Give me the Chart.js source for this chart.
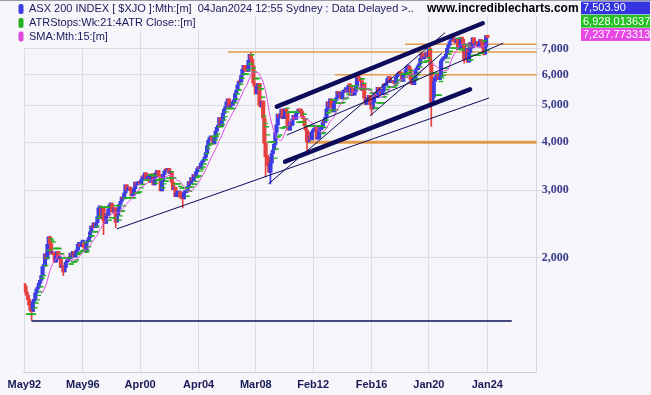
<!DOCTYPE html>
<html>
<head>
<meta charset="utf-8">
<script src="https://cdn.jsdelivr.net/npm/chart.js@4.4.1/dist/chart.umd.min.js"></script>
<style>
  html, body { margin: 0; padding: 0; background: #f5f5fa; }
  #chart { display: block; }
</style>
</head>
<body>
<canvas id="chart" width="651" height="395"></canvas>
<script>
// monthly closes, index 0 = May 1992, last = Jan 2024
var firstOpen = 1715;
var closes1992to1999 = [
  1690, 1630, 1600, 1560, 1510, 1460, 1450, 1540,                          // 1992 May-Dec
  1560, 1620, 1660, 1680, 1720, 1750, 1800, 1900, 1920, 2050, 1990, 2170,  // 1993
  2270, 2180, 2050, 2050, 2040, 1950, 2020, 2080, 1990, 1990, 1890, 1910,  // 1994
  1840, 1890, 1950, 1960, 2000, 1990, 2060, 2030, 2080, 2010, 2060, 2100,  // 1995
  2170, 2180, 2140, 2200, 2200, 2130, 2080, 2200, 2210, 2260, 2340, 2420,  // 1996
  2400, 2470, 2400, 2470, 2560, 2700, 2720, 2530, 2700, 2500, 2460, 2610,  // 1997
  2580, 2680, 2750, 2770, 2640, 2630, 2700, 2480, 2580, 2680, 2760, 2810,  // 1998
  2880, 2850, 2950, 3100, 3000, 3000, 3060, 3000, 2900, 2920, 3030, 3150   // 1999
];
var closes2000to2007 = [
  3100, 3130, 3130, 3120, 3200, 3260, 3250, 3330, 3210, 3240, 3240, 3150,  // 2000
  3290, 3280, 3100, 3240, 3330, 3380, 3280, 3260, 2990, 3160, 3300, 3360,  // 2001
  3390, 3380, 3420, 3320, 3330, 3150, 3010, 3060, 2890, 2950, 2950, 2980,  // 2002
  2880, 2860, 2850, 2960, 2960, 2990, 3070, 3160, 3120, 3240, 3180, 3300,  // 2003
  3260, 3350, 3420, 3430, 3420, 3530, 3560, 3600, 3660, 3760, 3920, 4050,  // 2004
  4110, 4140, 4070, 3960, 4100, 4280, 4380, 4420, 4640, 4400, 4560, 4760,  // 2005
  4880, 4960, 5100, 5190, 4930, 5000, 4990, 5100, 5130, 5360, 5460, 5640,  // 2006
  5770, 5740, 5970, 6200, 6350, 6170, 6130, 6120, 6540, 6780, 6590, 6340   // 2007
];
var closes2008to2015 = [
  5700, 5600, 5350, 5600, 5700, 5000, 4950, 5120, 4630, 3980, 3670, 3660,  // 2008
  3480, 3340, 3530, 3740, 3820, 3950, 4250, 4440, 4740, 4640, 4710, 4880,  // 2009
  4610, 4660, 4890, 4820, 4390, 4300, 4520, 4430, 4600, 4700, 4590, 4750,  // 2010
  4780, 4880, 4830, 4820, 4660, 4610, 4420, 4300, 4010, 4240, 4170, 4060,  // 2011
  4260, 4300, 4340, 4400, 4080, 4100, 4320, 4320, 4390, 4520, 4510, 4650,  // 2012
  4880, 5100, 4970, 5190, 4930, 4800, 5050, 5140, 5220, 5430, 5320, 5350,  // 2013
  5190, 5400, 5400, 5490, 5490, 5400, 5630, 5620, 5300, 5530, 5310, 5410,  // 2014
  5590, 5930, 5890, 5790, 5780, 5460, 5700, 5210, 5020, 5240, 5170, 5300   // 2015
];
var closes2016to2024 = [
  5010, 4880, 5080, 5250, 5380, 5230, 5560, 5430, 5440, 5320, 5440, 5670,  // 2016
  5620, 5710, 5860, 5920, 5720, 5720, 5720, 5710, 5680, 5910, 5970, 6070,  // 2017
  6040, 6020, 5760, 5980, 6010, 6190, 6280, 6320, 6210, 5830, 5670, 5650,  // 2018
  5860, 6170, 6180, 6330, 6400, 6620, 6810, 6600, 6690, 6660, 6850, 6680,  // 2019
  7020, 6440, 5080, 5240, 5760, 5900, 5930, 6060, 5820, 5930, 6520, 6590,  // 2020
  6610, 6670, 6790, 7030, 7160, 7310, 7390, 7530, 7330, 7320, 7260, 7440,  // 2021
  6970, 7050, 7500, 7430, 7210, 6570, 6950, 6990, 6470, 6860, 7280, 7040,  // 2022
  7480, 7260, 7180, 7310, 7090, 7200, 7410, 7300, 7050, 6780, 7090, 7590,  // 2023
  7504                                                                     // 2024 Jan
];

// months with a visible wick beyond the body
var wickMonths = [6, 21, 32, 65, 75, 130, 186, 198, 202, 232, 275, 285, 333, 334, 351, 361, 377, 380];
var wickLows   = [1376, null, 1800, 2300, 2400, 2700, null, 3250, 3120, 3800, null, 4710, null, 4402, null, 6430, 6750, null];
var wickHighs  = [null, 2280, null, null, null, null, 6851, null, null, null, 5996, null, 7197, null, 7632, null, null, 7560];

var tickMonths = [0, 48, 95, 143, 190, 237, 285, 332, 380];
var tickLabels = ['May92', 'May96', 'Apr00', 'Apr04', 'Mar08', 'Feb12', 'Feb16', 'Jan20', 'Jan24'];
var yTicks = [2000, 3000, 4000, 5000, 6000, 7000];

// drawn trend lines [month1, value1, month2, value2]
var thinNavyLines = [
  [6, 1371, 400, 1371],
  [75.8, 2380, 381.4, 5219],
  [200.3, 3117, 345.3, 7721],
  [215.4, 4179, 393.1, 7246],
  [283.7, 4686, 342.6, 6824]
];
var thickNavyLines = [
  [207.2, 4954, 376.2, 8169],
  [214, 3564, 365.8, 5498]
];
// horizontal levels [start month, value]
var thinOrangeLevels = [[167.2, 6876], [312.4, 7201], [255, 6000]];
var thickOrangeLevels = [[232, 4000]];

var legendRows = [
  'ASX 200 INDEX [ $XJO ]:Mth:[m]  04Jan2024 12:55 Sydney : Data Delayed >..',
  'ATRStops:Wk:21:4ATR Close::[m]',
  'SMA:Mth:15:[m]'
];
var lastValues = ['7,503.90', '6,928.013637', '7,237.773313'];

var BG = '#f5f5fa';
var GRID = '#dcdce6';
var UP = '#3c3ce4';
var DOWN = '#e64040';
var NAVY = '#0c0c5a';
var ORANGE = '#e39a4c';
var GREEN = '#22b022';
var PINK = '#e04ce0';

var closes = closes1992to1999.concat(closes2000to2007, closes2008to2015, closes2016to2024);
var xMax = 420.5;

var bodies = [], bodyColors = [];
for (var i = 0; i < closes.length; i++) {
  var o = i == 0 ? firstOpen : closes[i - 1];
  var c = closes[i];
  bodies.push({ x: i, y: [Math.min(o, c), Math.max(o, c)] });
  bodyColors.push(c >= o ? UP : DOWN);
}

var wicks = [], wickColors = [];
wickMonths.forEach(function (m, k) {
  var b = bodies[m].y;
  wicks.push({ x: m, y: [wickLows[k] || b[0], wickHighs[k] || b[1]] });
  wickColors.push(bodyColors[m]);
});

// 15 month simple moving average
var sma = [];
for (var i = 14; i < closes.length; i++) {
  var s = 0;
  for (var j = i - 14; j <= i; j++) s += closes[j];
  sma.push({ x: i, y: s / 15 });
}

// volatility trailing stop from the bar ranges
var stops = [];
var atr = null, stop = null, trend = 1, mult = 2.4;
for (var i = 1; i < closes.length; i++) {
  var hi = bodies[i].y[1], lo = bodies[i].y[0];
  var wk = wickMonths.indexOf(i);
  if (wk >= 0) { hi = wicks[wk].y[1]; lo = wicks[wk].y[0]; }
  var tr = Math.max(hi, closes[i - 1]) - Math.min(lo, closes[i - 1]);
  atr = atr == null ? tr : (atr * 9 + tr) / 10;
  var c = closes[i];
  if (i < 3) continue;
  if (stop == null) { stop = c - mult * atr; trend = 1; }
  else if (trend == 1) {
    if (c < stop) { trend = -1; stop = c + mult * atr; }
    else stop = Math.max(stop, c - mult * atr);
  } else {
    if (c > stop) { trend = 1; stop = c - mult * atr; }
    else stop = Math.min(stop, c + mult * atr);
  }
  stops.push({ x: i, y: stop });
}

var datasets = [];

thinOrangeLevels.forEach(function (l) {
  datasets.push({ type: 'line', order: 4, data: [{ x: l[0], y: l[1] }, { x: xMax, y: l[1] }],
    borderColor: ORANGE, borderWidth: 1.4, pointRadius: 0 });
});
thickOrangeLevels.forEach(function (l) {
  datasets.push({ type: 'line', order: 4, data: [{ x: l[0], y: l[1] }, { x: xMax, y: l[1] }],
    borderColor: ORANGE, borderWidth: 3, pointRadius: 0 });
});

datasets.push({
  type: 'bar', order: 3, data: wicks, backgroundColor: wickColors,
  barThickness: 1, grouped: false, borderWidth: 0
});
datasets.push({
  type: 'bar', order: 3, data: bodies, backgroundColor: bodyColors,
  barThickness: 3.5, grouped: false, borderWidth: 0, minBarLength: 2
});

datasets.push({
  type: 'line', order: 2, data: sma, borderColor: PINK, borderWidth: 1,
  pointRadius: 0, tension: 0
});
datasets.push({
  type: 'line', order: 2, data: stops, showLine: false,
  pointStyle: 'line', pointRadius: 2.2, pointBorderColor: GREEN, pointBorderWidth: 1.4,
  pointBackgroundColor: GREEN
});

thinNavyLines.forEach(function (l, k) {
  datasets.push({ type: 'line', order: 1, data: [{ x: l[0], y: l[1] }, { x: l[2], y: l[3] }],
    borderColor: NAVY, borderWidth: k == 0 ? 1.6 : 1, pointRadius: 0 });
});
thickNavyLines.forEach(function (l) {
  datasets.push({ type: 'line', order: 1, data: [{ x: l[0], y: l[1] }, { x: l[2], y: l[3] }],
    borderColor: NAVY, borderWidth: 4.5, borderCapStyle: 'round', pointRadius: 0 });
});

var decor = {
  id: 'decor',
  beforeDraw: function (chart) {
    var ctx = chart.ctx;
    ctx.save();
    ctx.fillStyle = BG;
    ctx.fillRect(0, 0, chart.width, chart.height);
    ctx.restore();
  },
  afterDraw: function (chart) {
    var ctx = chart.ctx;
    ctx.save();
    var rowY = [9, 23, 36.5];
    var sq = [UP, GREEN, PINK];
    ctx.textBaseline = 'middle';
    ctx.font = '11px "Liberation Sans", Arial, sans-serif';

    // legend boxes hide the grid behind the text
    ctx.fillStyle = BG;
    ctx.fillRect(14, 0, ctx.measureText(legendRows[0]).width + 19, 16);
    ctx.fillRect(14, 16, ctx.measureText(legendRows[1]).width + 19, 14);
    ctx.fillRect(14, 30, ctx.measureText(legendRows[2]).width + 19, 17);
    ctx.fillRect(424, 0, 155, 16);

    for (var r = 0; r < 3; r++) {
      ctx.fillStyle = sq[r];
      ctx.beginPath();
      ctx.roundRect(18.5, rowY[r] - 5, 5, 10, 2);
      ctx.fill();
      ctx.fillStyle = '#1a1a5c';
      ctx.fillText(legendRows[r], 29, rowY[r]);
    }
    ctx.fillStyle = '#000000';
    ctx.font = 'bold 12px "Liberation Sans", Arial, sans-serif';
    ctx.fillText('www.incrediblecharts.com', 427, 9);

    var boxCol = ['#3434e0', '#24c024', '#e648e6'];
    var boxY = [1.5, 14.8, 28.1];
    ctx.font = '11px "Liberation Sans", Arial, sans-serif';
    for (var b = 0; b < 3; b++) {
      ctx.fillStyle = boxCol[b];
      ctx.fillRect(581, boxY[b], 69, 12.8);
      ctx.fillStyle = '#ffffff';
      ctx.fillText(lastValues[b], 583, boxY[b] + 6.8);
    }

    ctx.fillStyle = '#9a9aa4';
    ctx.fillRect(0, 0, chart.width, 1);
    ctx.restore();
  }
};

new Chart(document.getElementById('chart'), {
  type: 'bar',
  data: { datasets: datasets },
  plugins: [decor],
  options: {
    responsive: false,
    devicePixelRatio: 1,
    animation: false,
    layout: { padding: { left: 23.7, top: 2, right: 0, bottom: 0 } },
    plugins: { legend: { display: false }, tooltip: { enabled: false } },
    scales: {
      x: {
        type: 'linear', min: -0.5, max: xMax, offset: false,
        afterBuildTicks: function (s) { s.ticks = tickMonths.map(function (v) { return { value: v }; }); },
        afterFit: function (s) { s.height = 22.7; s.paddingLeft = 0; s.paddingRight = 0; },
        grid: { color: GRID, tickLength: 0, offset: false },
        border: { color: '#cfcfdb' },
        ticks: {
          autoSkip: false, maxRotation: 0, padding: 6, color: '#1a1a58',
          font: { family: '"Liberation Sans", Arial, sans-serif', weight: 'bold', size: 11 },
          callback: function (v, i) { return tickLabels[i]; }
        }
      },
      y: {
        type: 'logarithmic', position: 'right', min: 1008, max: 9090,
        afterBuildTicks: function (s) { s.ticks = yTicks.map(function (v) { return { value: v }; }); },
        afterFit: function (s) { s.width = 114.3; s.paddingTop = 0; s.paddingBottom = 0; },
        grid: { color: GRID, tickLength: 4 },
        border: { color: '#d6d6e2' },
        ticks: {
          autoSkip: false, padding: 1, color: '#38388a',
          font: { family: '"Liberation Serif", "Times New Roman", serif', weight: 'bold', size: 12 },
          callback: function (v) { return v.toLocaleString('en-US'); }
        }
      }
    }
  }
});
</script>
</body>
</html>
